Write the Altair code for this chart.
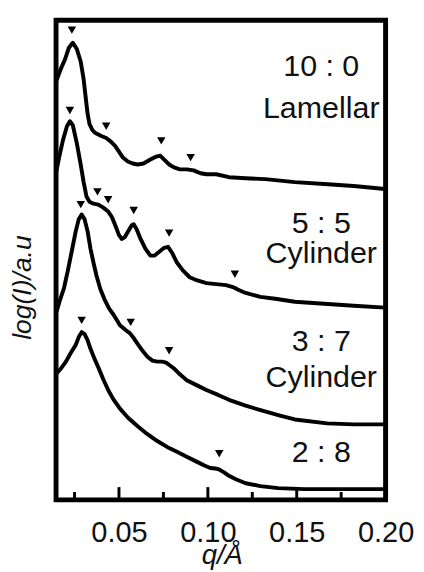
import altair as alt
import pandas as pd

# ---- data (q in 1/Å, intensity in arbitrary offset units) ----
q_100 = [0.01492, 0.01740, 0.01961, 0.02182, 0.02403, 0.02624, 0.02845, 0.03011, 0.03122, 0.03232,
         0.03343, 0.03508, 0.03674, 0.04006, 0.04282, 0.04558, 0.04779, 0.05000, 0.05221, 0.05497,
         0.05773, 0.06050, 0.06381, 0.06768, 0.07099, 0.07320, 0.07541, 0.07818, 0.08094, 0.08425,
         0.08812, 0.09199, 0.09586, 0.09917, 0.10470, 0.11188, 0.12127, 0.13232, 0.14890, 0.16547,
         0.18204, 0.19972]
i_100 = [428, 440, 449, 461, 466, 460, 447, 429, 411, 394,
         383, 377, 374, 371, 369, 365, 361, 355, 349, 345,
         343, 342, 343, 347, 350, 351, 347, 342, 339, 337,
         337, 336, 333, 332, 332, 329, 328, 327, 324, 322,
         320, 317]

q_55 = [0.01464, 0.01630, 0.01851, 0.02072, 0.02238, 0.02403, 0.02624, 0.02845, 0.03011, 0.03177,
        0.03343, 0.03564, 0.03840, 0.04116, 0.04392, 0.04613, 0.04834, 0.05000, 0.05166, 0.05331,
        0.05552, 0.05718, 0.05829, 0.05994, 0.06215, 0.06492, 0.06768, 0.06989, 0.07265, 0.07541,
        0.07762, 0.07983, 0.08260, 0.08591, 0.08978, 0.09365, 0.09917, 0.10470, 0.11022, 0.11409,
        0.11740, 0.12127, 0.12956, 0.13785, 0.14890, 0.16547, 0.18204, 0.19972]
i_55 = [334, 349, 367, 381, 386, 382, 364, 342, 324, 309,
        304, 302, 301, 298, 294, 288, 278, 270, 266, 268,
        275, 280, 281, 276, 266, 256, 249, 249, 253, 257,
        258, 252, 242, 234, 227, 224, 221, 220, 219, 217,
        214, 211, 207, 205, 202, 200, 198, 196]

q_37 = [0.01492, 0.01685, 0.01906, 0.02127, 0.02348, 0.02569, 0.02735, 0.02901, 0.03066, 0.03232,
        0.03398, 0.03564, 0.03729, 0.03950, 0.04171, 0.04448, 0.04724, 0.05055, 0.05387, 0.05608,
        0.05829, 0.06050, 0.06326, 0.06602, 0.06878, 0.07155, 0.07431, 0.07652, 0.07873, 0.08094,
        0.08425, 0.08812, 0.09365, 0.09917, 0.10580, 0.11188, 0.12127, 0.13066, 0.14061, 0.14890,
        0.16713, 0.18204, 0.19972]
i_37 = [192, 204, 216, 234, 254, 274, 286, 291, 286, 274,
        256, 242, 229, 215, 205, 195, 188, 178, 173, 170,
        165, 159, 152, 146, 142, 141, 141, 140, 137, 134,
        128, 122, 117, 112, 107, 102, 96, 91, 86, 82,
        78, 77, 77]

q_28 = [0.01492, 0.01740, 0.02017, 0.02293, 0.02569, 0.02735, 0.02901, 0.03066, 0.03232, 0.03398,
        0.03619, 0.03840, 0.04116, 0.04392, 0.04669, 0.05055, 0.05497, 0.06050, 0.06602, 0.07155,
        0.07707, 0.08260, 0.08812, 0.09365, 0.09807, 0.10138, 0.10414, 0.10635, 0.10912, 0.11188,
        0.11575, 0.12127, 0.12956, 0.13950, 0.15442, 0.16713, 0.18204, 0.19972]
i_28 = [129, 134, 141, 150, 158, 166, 171, 169, 163, 154,
        144, 135, 123, 112, 103, 93, 84, 75, 67, 60,
        54, 49, 44, 39, 35, 32.5, 32, 31, 28, 24.5,
        21, 17, 14, 12, 11, 11, 11, 11]

# peak markers (down triangles)
mq_100 = [0.0235, 0.0428, 0.0738, 0.0903]
mi_100 = [479, 381, 366, 349]
mq_55 = [0.0224, 0.0379, 0.0439, 0.0583, 0.0782, 0.1152]
mi_55 = [397, 314, 306, 295, 272, 230]
mq_37 = [0.0285, 0.0566, 0.0782]
mi_37 = [301, 181, 152]
mq_28 = [0.0290, 0.1064]
mi_28 = [183, 47]

# annotations
label_text = ["10 : 0", "Lamellar", "5 : 5", "Cylinder", "3 : 7", "Cylinder", "2 : 8"]
label_q = [0.1638, 0.1638, 0.1638, 0.1638, 0.1638, 0.1638, 0.1638]
label_i = [432, 389, 272, 242, 152, 115, 39]

major_ticks = [0.05, 0.10, 0.15, 0.20]
minor_ticks = [0.025, 0.075, 0.125, 0.175]

# ---- tables ----
curves = pd.concat([
    pd.DataFrame({"q": q_100, "I": i_100, "s": "10:0"}),
    pd.DataFrame({"q": q_55, "I": i_55, "s": "5:5"}),
    pd.DataFrame({"q": q_37, "I": i_37, "s": "3:7"}),
    pd.DataFrame({"q": q_28, "I": i_28, "s": "2:8"}),
], ignore_index=True)
markers = pd.concat([
    pd.DataFrame({"q": mq_100, "I": mi_100}),
    pd.DataFrame({"q": mq_55, "I": mi_55}),
    pd.DataFrame({"q": mq_37, "I": mi_37}),
    pd.DataFrame({"q": mq_28, "I": mi_28}),
], ignore_index=True)
labels = pd.DataFrame({"q": label_q, "I": label_i, "t": label_text})
majors = pd.DataFrame({"q": major_ticks})
minors = pd.DataFrame({"q": minor_ticks})

FONT = "Liberation Sans"

x_axis = alt.Axis(values=major_ticks, format=".2f", labelFont=FONT, labelFontSize=29.5,
                  labelColor="#111", labelPadding=19, labelFlush=False, labelOverlap=False,
                  labelBound=False, ticks=False, domain=False, grid=False,
                  title="q/Å", titleFont=FONT, titleFontSize=28, titleFontStyle="italic",
                  titleFontWeight="normal", titleColor="#111", titleX=169, titleY=65,
                  titleBaseline="alphabetic", titleAlign="center")
y_axis = alt.Axis(labels=False, ticks=False, domain=False, grid=False,
                  title="log(I)/a.u", titleFont=FONT, titleFontSize=27, titleFontStyle="italic",
                  titleFontWeight="normal", titleColor="#111", titleAngle=270,
                  titleX=-26, titleY=272, titleBaseline="alphabetic", titleAlign="center")

X = alt.X("q:Q", scale=alt.Scale(domain=[0.0146, 0.2], nice=False, zero=False), axis=x_axis)
Y = alt.Y("I:Q", scale=alt.Scale(domain=[0, 489], nice=False, zero=False), axis=y_axis)

lines = alt.Chart(curves).mark_line(color="black", strokeWidth=4, strokeJoin="round").encode(
    x=X, y=Y, detail="s:N"
)
tri = alt.Chart(markers).mark_point(shape="triangle-down", filled=True, color="black",
                                     size=75, opacity=1).encode(x=X, y=Y)
txt = alt.Chart(labels).mark_text(font=FONT, fontSize=31, color="#111", align="center",
                                   baseline="alphabetic").encode(x=X, y=Y, text="t:N")
maj = alt.Chart(majors).mark_rule(color="black", strokeWidth=3).encode(
    x=X, y=alt.value(489), y2=alt.value(476))
mino = alt.Chart(minors).mark_rule(color="black", strokeWidth=3).encode(
    x=X, y=alt.value(489), y2=alt.value(481))

chart = alt.layer(maj, mino, lines, tri, txt).properties(
    width=336, height=489,
    padding={"left": 49, "top": 7, "right": 31, "bottom": 67},
    autosize=alt.AutoSizeParams(type="none"),
    background="white",
).configure_view(stroke="black", strokeWidth=5)

chart.save("out.html", embed_options={"renderer": "svg", "actions": False})
